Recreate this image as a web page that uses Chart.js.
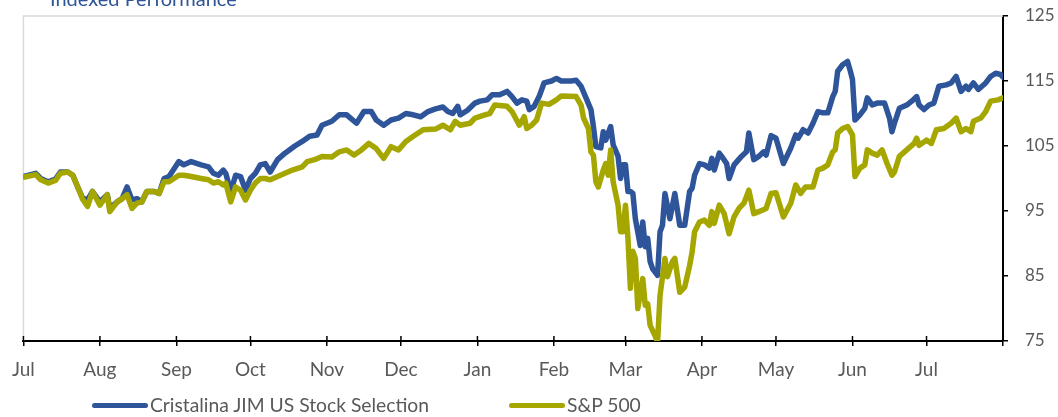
<!DOCTYPE html>
<html>
<head>
<meta charset="utf-8">
<script src="https://cdn.jsdelivr.net/npm/chart.js@4"></script>
<style>
  html, body { margin: 0; padding: 0; background: #fff; overflow: hidden; }
  #wrap { position: relative; width: 1058px; height: 417px; }
  #perfChart { display: block; }
  #title { position: absolute; left: 50px; top: -12px; font: 20px Lato, sans-serif; line-height: 20px; color: #2F5597; white-space: nowrap; }
  #legend { position: absolute; left: 92px; top: 395px; display: flex; gap: 80px; font: 19.3px Lato, sans-serif; line-height: 20px; color: #595959; }
  #legend .item { display: flex; align-items: center; }
  #legend .swatch { width: 56px; height: 5px; border-radius: 3px; margin-right: 2px; }
</style>
</head>
<body>
<div id="wrap">
  <canvas id="perfChart" width="1058" height="417"></canvas>
  <div id="title">Indexed Performance</div>
  <div id="legend"></div>
</div>
<script>
// calendar days from 1 Jul (month ticks), values indexed to 100
var monthLabels = ["Jul", "Aug", "Sep", "Oct", "Nov", "Dec", "Jan", "Feb", "Mar", "Apr", "May", "Jun", "Jul", ""];
var monthStarts = [0, 31, 62, 92, 123, 153, 184, 215, 244, 275, 305, 336, 366, 397];
var yTicks = [75, 85, 95, 105, 115, 125];

var fundDays = [0, 5, 7, 10, 13, 15, 18, 20, 22, 24, 26, 28, 31, 34, 35, 38, 40, 42, 44, 46, 48, 50, 53, 55, 57, 59,
  63, 65, 68, 72, 75, 77, 79, 81, 82, 84, 86, 88, 90, 92, 94, 96, 98, 100, 103, 106, 110, 113, 116, 119, 121, 125,
  128, 131, 135, 138, 141, 143, 146, 149, 152, 155, 158, 161, 164, 167, 170, 172, 174, 176, 177, 180, 183, 185, 188,
  190, 193, 196, 198, 200, 202, 204, 205, 207, 209, 211, 214, 216, 218, 222, 224, 226, 228, 230, 231, 232, 234, 235,
  236, 238, 239, 241, 242, 243, 244, 245, 246, 247, 248, 250, 251, 252, 253, 254, 255, 257, 258, 259, 260, 262, 264,
  266, 268, 270, 271, 272, 274, 276, 278, 279, 280, 282, 283, 285, 286, 288, 291, 293, 294, 296, 298, 300, 301, 303,
  305, 308, 311, 313, 314, 316, 318, 320, 322, 324, 326, 328, 329, 330, 332, 334, 335, 336, 337, 339, 341, 342, 344,
  346, 349, 351, 352, 353, 355, 358, 360, 362, 363, 365, 367, 369, 371, 374, 376, 378, 380, 382, 383, 385, 387, 390,
  392, 394, 396, 397];
var fundValues = [100.3, 100.8, 100, 99.5, 99.9, 101, 101, 100.5, 98.7, 97, 96.7, 98, 96.4, 97.5, 95.4, 96.4, 96.9, 98.7,
  96.7, 96.9, 96.4, 98, 98, 97.7, 100, 100.3, 102.6, 102.1, 102.6, 102.1, 101.8, 100.8, 100.5, 101.3, 100.8, 98, 100.5,
  100.3, 98.2, 100, 100.8, 102.1, 102.3, 101, 102.9, 103.9, 105, 105.7, 106.5, 106.7, 108.2, 108.8, 109.8, 109.8, 108.5,
  110.3, 110.3, 109, 108.2, 109, 109.3, 110, 109.8, 109.5, 110.3, 110.7, 111, 110.3, 110, 111.1, 109.8, 110.5, 111.6,
  111.9, 112.1, 112.9, 112.9, 113.4, 112.6, 111.6, 112.1, 111.9, 110.6, 111.1, 112.6, 114.7, 115, 115.4, 115, 115,
  115.1, 114.2, 112.4, 110.6, 108, 104.9, 104.7, 107.2, 105.9, 108, 105.2, 103.4, 100, 102.1, 102.1, 98, 98, 97.7, 93.8,
  89.7, 93.3, 89.5, 90.8, 87.2, 86.1, 85.1, 91.8, 92.8, 97.7, 93.8, 97.7, 92.8, 92.8, 98, 98.5, 100.5, 102.3, 102.1,
  101.6, 103.1, 101.3, 103.9, 103.4, 102.3, 100, 102.1, 103.4, 104.1, 107, 102.9, 103.4, 104.1, 103.6, 106.6, 106.2,
  102.3, 104.7, 106.7, 106.2, 107.5, 107, 108.5, 110.3, 110.1, 110.1, 112.6, 113.4, 116.5, 117.5, 118, 116.7, 115.2,
  109, 109.8, 110.8, 112.4, 111.3, 111.6, 111.6, 109.3, 107.2, 108.5, 110.8, 111.3, 111.9, 112.6, 111.3, 110.6, 111.3,
  111.6, 114.2, 114.4, 114.7, 115.7, 113.4, 114.2, 113.7, 114.7, 113.7, 114.7, 115.7, 116.2, 116, 115.6];

var spxDays = [0, 5, 7, 10, 13, 15, 18, 20, 22, 24, 26, 28, 31, 34, 35, 38, 40, 42, 44, 46, 48, 50, 53, 55, 57, 59,
  63, 65, 68, 72, 75, 77, 79, 81, 82, 84, 86, 88, 90, 92, 94, 96, 98, 100, 103, 106, 109, 113, 115, 118, 121, 125,
  128, 131, 134, 137, 140, 143, 146, 149, 152, 155, 158, 162, 167, 170, 173, 175, 177, 181, 183, 187, 189, 191, 196,
  198, 201, 203, 204, 206, 208, 210, 213, 216, 218, 224, 226, 227, 229, 230, 231, 232, 233, 235, 236, 237, 238, 239,
  241, 242, 243, 244, 245, 246, 247, 248, 249, 251, 252, 253, 254, 256, 257, 258, 260, 261, 263, 264, 266, 268, 270,
  271, 272, 274, 276, 278, 279, 280, 282, 284, 286, 288, 290, 292, 294, 296, 298, 301, 303, 305, 308, 311, 313, 315,
  317, 320, 322, 324, 326, 328, 329, 330, 332, 334, 336, 337, 339, 341, 342, 344, 346, 348, 350, 352, 353, 355, 358,
  361, 362, 363, 366, 368, 370, 373, 376, 378, 380, 382, 384, 385, 388, 390, 392, 395, 397];
var spxValues = [100.2, 100.6, 99.8, 99.3, 99.7, 100.8, 101, 100.5, 98.7, 96.8, 95.7, 98, 95.9, 97.5, 94.9, 96.4, 96.9,
  97.5, 95.4, 96.2, 96.4, 98, 98, 97.7, 99.5, 99.5, 100.5, 100.5, 100.3, 100, 99.8, 99.3, 99.5, 99, 99.3, 96.4, 98.7,
  98.2, 96.7, 98.2, 99.3, 100, 100, 99.8, 100.3, 100.8, 101.3, 101.8, 102.6, 102.9, 103.4, 103.3, 104.1, 104.4, 103.6,
  104.4, 105.4, 104.6, 103.1, 104.9, 104.4, 105.7, 106.5, 107.5, 107.6, 108.2, 107.5, 108.8, 108.2, 108.5, 109.3, 109.8,
  110, 111.3, 111.1, 110.3, 108.2, 109.5, 107.7, 108.2, 109, 111.6, 111.4, 112.1, 112.7, 112.6, 111.3, 109.3, 107.7,
  104.1, 103.6, 99.5, 98.7, 101.3, 102.3, 100.5, 104.4, 99.5, 95.9, 91.8, 91.8, 95.9, 90.8, 83.1, 88.8, 87.7, 80, 84.6,
  80.5, 80.7, 77.4, 75.8, 74.8, 82, 87.7, 84.9, 87.2, 87.7, 82.5, 83.3, 86.6, 88.7, 91.8, 93.3, 93.6, 92.8, 94.9, 93.1,
  95.9, 94.6, 91.5, 94.1, 95.4, 96.2, 98.2, 94.6, 94.9, 95.4, 97.7, 97.8, 94.1, 96.2, 99, 97.7, 98.7, 98.7, 101.3, 101.6,
  102.1, 104.1, 104.4, 107, 107.7, 108, 106.7, 100.3, 101.6, 102.1, 104.4, 103.9, 103.6, 104.4, 102.3, 100.5, 101,
  103.4, 104.4, 105.4, 106.2, 105.1, 105.9, 105.4, 107.5, 107.7, 108.5, 109.3, 107.2, 107.7, 107.2, 108.8, 109.3, 110.3,
  111.9, 112.1, 112.4];

function toPoints(days, values) {
  return days.map(function (d, i) { return { x: d, y: values[i] }; });
}

// light grey frame on top/left of the plot area (bottom/right are the black axes),
// plus the inner half of the crossing month tick marks
var plotFrame = {
  id: "plotFrame",
  beforeDatasetsDraw: function (chart) {
    var a = chart.chartArea, c = chart.ctx;
    c.save();
    c.strokeStyle = "#d9d9d9";
    c.lineWidth = 1.5;
    c.beginPath();
    c.moveTo(a.left, a.bottom);
    c.lineTo(a.left, a.top);
    c.lineTo(a.right, a.top);
    c.stroke();
    c.restore();
  },
  afterDraw: function (chart) {
    var a = chart.chartArea, c = chart.ctx, xs = chart.scales.x;
    c.save();
    c.strokeStyle = "#000";
    c.lineWidth = 1.5;
    c.beginPath();
    xs.ticks.forEach(function (t) {
      var px = xs.getPixelForValue(t.value);
      c.moveTo(px, a.bottom - 5);
      c.lineTo(px, a.bottom);
    });
    c.stroke();
    c.restore();
  }
};

var ctx = document.getElementById("perfChart");
var config = {
  type: "line",
  data: {
    datasets: [
      {
        label: "Cristalina JIM US Stock Selection",
        data: toPoints(fundDays, fundValues),
        borderColor: "#2E5599",
        order: 1
      },
      {
        label: "S&P 500",
        data: toPoints(spxDays, spxValues),
        borderColor: "#A5A600",
        order: 0
      }
    ]
  },
  options: {
    responsive: false,
    animation: false,
    layout: { padding: { left: 22, top: 16, bottom: 38, right: 0 } },
    elements: {
      point: { radius: 0 },
      line: { borderWidth: 5.5, tension: 0, borderJoinStyle: "round", borderCapStyle: "round" }
    },
    plugins: {
      legend: { display: false },
      tooltip: { enabled: false }
    },
    scales: {
      x: {
        type: "linear",
        min: monthStarts[0],
        max: monthStarts[monthStarts.length - 1],
        afterBuildTicks: function (scale) {
          scale.ticks = monthStarts.map(function (v) { return { value: v }; });
        },
        afterFit: function (scale) { scale.height = 38; },
        ticks: {
          autoSkip: false,
          maxRotation: 0,
          padding: 12,
          color: "#595959",
          font: { family: "Lato", size: 19 },
          callback: function (value, index) { return monthLabels[index]; }
        },
        grid: { drawOnChartArea: false, tickLength: 5, color: "#000", lineWidth: 1.5 },
        border: { color: "#000", width: 2 }
      },
      y: {
        position: "right",
        min: 75,
        max: 125,
        afterBuildTicks: function (scale) {
          scale.ticks = yTicks.map(function (v) { return { value: v }; });
        },
        afterFit: function (scale) {
          scale.width = 55;
          scale.paddingTop = 0;
          scale.paddingBottom = 0;
        },
        ticks: {
          padding: 17,
          color: "#595959",
          font: { family: "Lato", size: 17 }
        },
        grid: { drawOnChartArea: false, tickLength: 5, color: "#000", lineWidth: 1.5 },
        border: { color: "#000", width: 2 }
      }
    }
  },
  plugins: [plotFrame]
};

var perfChart = new Chart(ctx, config);

// legend built from the datasets
var legendEl = document.getElementById("legend");
perfChart.data.datasets.forEach(function (ds) {
  var item = document.createElement("div");
  item.className = "item";
  var sw = document.createElement("span");
  sw.className = "swatch";
  sw.style.background = ds.borderColor;
  var txt = document.createElement("span");
  txt.textContent = ds.label;
  item.appendChild(sw);
  item.appendChild(txt);
  legendEl.appendChild(item);
});
</script>
</body>
</html>
